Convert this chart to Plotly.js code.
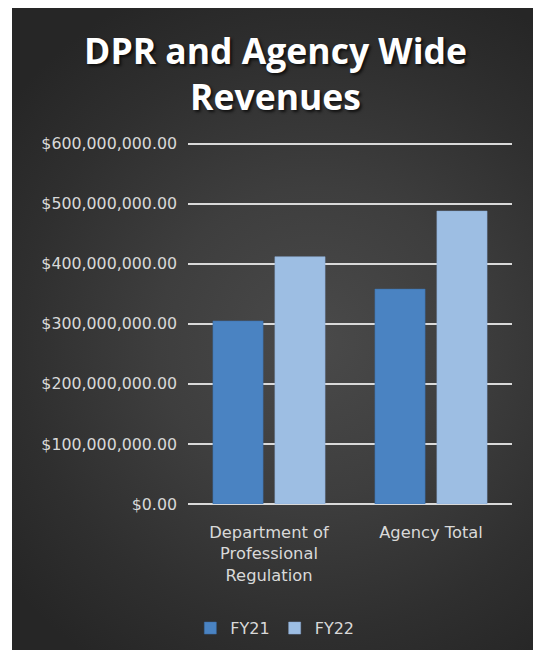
<!DOCTYPE html>
<html>
<head>
<meta charset="utf-8">
<script src="https://cdn.plot.ly/plotly-3.0.1.min.js"></script>
<style>
  html, body { margin: 0; padding: 0; background: #ffffff; }
  #wrap { position: relative; width: 535px; height: 650px; overflow: hidden; }
  #panel { position: absolute; left: 12px; top: 8px; width: 521px; height: 642px;
    background: radial-gradient(ellipse 75% 60% at 58% 52%, #4a4a4a 0%, #3e3e3e 40%, #2f2f2f 75%, #262626 100%); }
  #chart { position: absolute; left: 0; top: 0; width: 535px; height: 650px; }
</style>
</head>
<body>
<div id="wrap">
  <div id="panel"></div>
  <div id="chart"></div>
</div>
<script>
const categories = ["Department of<br>Professional<br>Regulation", "Agency Total"];
const seriesNames = ["FY21", "FY22"];
const fy21 = [305000000, 358000000];
const fy22 = [412000000, 488000000];
const yTicks = [0, 100000000, 200000000, 300000000, 400000000, 500000000, 600000000];

const labelColor = "#d9d9d9";
const yTickFont = { family: "'DejaVu Sans', sans-serif", size: 15.8, color: labelColor };
const xTickFont = { family: "'DejaVu Sans', sans-serif", size: 16.3, color: labelColor };
const legendFont = { family: "'DejaVu Sans', sans-serif", size: 16, color: labelColor };

const traces = [
  { type: "bar", name: seriesNames[0], x: categories, y: fy21,
    marker: { color: "#4a83c2", line: { color: "#3c6fa8", width: 0.5 } } },
  { type: "bar", name: seriesNames[1], x: categories, y: fy22,
    marker: { color: "#9dbee3", line: { color: "#8aaad4", width: 0.5 } } }
];

const layout = {
  width: 535, height: 650,
  paper_bgcolor: "rgba(0,0,0,0)",
  plot_bgcolor: "rgba(0,0,0,0)",
  margin: { l: 188, r: 23, t: 142.2, b: 146, pad: 0, autoexpand: false },
  title: {
    text: "<b>DPR and Agency Wide<br>Revenues</b>",
    x: 0.515, xanchor: "center", y: 0.902, yanchor: "middle",
    font: { family: "'Open Sans', sans-serif", size: 35.5, color: "#ffffff",
            shadow: "2px 2px 3px rgba(0,0,0,0.7)" }
  },
  barmode: "group",
  bargap: 0.235,
  bargroupgap: 0.19,
  xaxis: {
    type: "category",
    showgrid: false,
    showline: false,
    ticks: "",
    ticklabelstandoff: 17,
    tickfont: xTickFont,
    automargin: false
  },
  yaxis: {
    range: [0, 603000000],
    tickvals: yTicks,
    tickformat: "$,.2f",
    showgrid: true,
    gridcolor: "#d9d9d9",
    gridwidth: 2,
    zeroline: true,
    zerolinecolor: "#d9d9d9",
    zerolinewidth: 2,
    showline: false,
    ticks: "",
    ticklabelstandoff: 10,
    tickfont: yTickFont,
    automargin: false
  },
  showlegend: true,
  legend: {
    orientation: "h",
    x: 0.268, xanchor: "center",
    y: -0.296, yanchor: "top",
    font: legendFont,
    bgcolor: "rgba(0,0,0,0)",
    itemwidth: 30,
    traceorder: "normal"
  }
};

Plotly.newPlot("chart", traces, layout, { displayModeBar: false, staticPlot: true });
</script>
</body>
</html>
